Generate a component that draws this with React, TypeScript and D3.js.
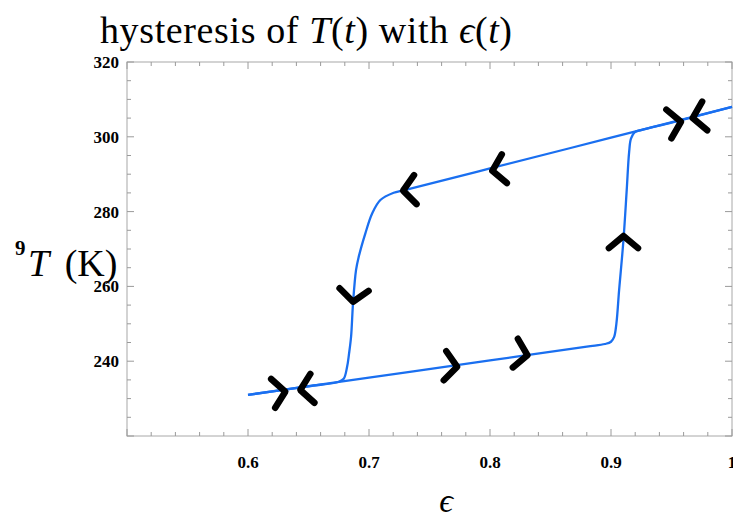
import React, { useEffect, useRef } from "react";
import * as d3 from "d3";

const width = 733;
const height = 519;

// heating: along the lower line, jump near 0.91, then the upper line to 1
const heatEps = [0.6, 0.7, 0.8, 0.88, 0.895, 0.9, 0.9026, 0.9045, 0.9067, 0.9103, 0.913, 0.915, 0.9165, 0.9195, 0.925, 0.95, 1.0];
const heatT = [231.0, 235.6, 240.2, 243.9, 244.6, 245.2, 246.5, 250.2, 259.0, 272.4, 285.8, 296.0, 299.5, 301.2, 301.8, 303.8, 308.0];

// cooling: back along the upper line, drop near 0.685, lower line to 0.6
const coolEps = [1.0, 0.9, 0.8, 0.74, 0.7274, 0.7204, 0.7094, 0.7026, 0.697, 0.6915, 0.6893, 0.6868, 0.6852, 0.6835, 0.6819, 0.6791, 0.675, 0.65, 0.6];
const coolT = [308.0, 299.75, 291.55, 286.6, 285.6, 285.05, 283.1, 279.5, 274.2, 267.9, 264.4, 255.5, 246.6, 242.0, 238.5, 235.3, 234.5, 233.3, 231.0];

const xTicks = [0.6, 0.7, 0.8, 0.9, 1];
const yTicks = [240, 260, 280, 300, 320];

// the hand drawn direction marks (tip position, heading in degrees on screen)
const arrowEps = [0.6308, 0.6432, 0.7729, 0.8309, 0.9103, 0.9578, 0.9675, 0.8019, 0.7282, 0.6868];
const arrowT = [231.85, 232.3, 238.5, 241.6, 273.5, 304.0, 305.0, 290.9, 285.6, 255.9];
const arrowDir = [-8, 172, 5, 10, -90, -10, 170, 170, 175, 95];

const App = () => {
  const ref = useRef<SVGSVGElement>(null);

  useEffect(() => {
    const svg = d3.select(ref.current);
    svg.selectAll("*").remove();

    const left = 127;
    const right = 732;
    const top = 62;
    const bottom = 436;

    const x = d3.scaleLinear().domain([0.5, 1]).range([left, right]);
    const y = d3.scaleLinear().domain([220, 320]).range([bottom, top]);

    const serif = "Liberation Serif, DejaVu Serif, serif";
    const tickColor = "#9a9a9a";

    // frame
    svg.append("rect")
      .attr("x", left)
      .attr("y", top)
      .attr("width", right - left)
      .attr("height", bottom - top)
      .attr("fill", "none")
      .attr("stroke", "#a8a8a8")
      .attr("stroke-width", 1);

    const xMajor = d3.range(0.5, 1.001, 0.1);
    const yMajor = d3.range(220, 321, 20);
    const allX = d3.range(0.5, 1.001, 0.02);
    const allY = d3.range(220, 321, 5);

    // ticks on all four sides, pointing in
    const ticks = svg.append("g").attr("stroke", tickColor).attr("stroke-width", 1);
    const isMajorX = (v: number) => xMajor.some(m => Math.abs(m - v) < 1e-6);
    const isMajorY = (v: number) => yMajor.some(m => Math.abs(m - v) < 1e-6);

    allX.forEach(v => {
      const len = isMajorX(v) ? 7 : 4;
      ticks.append("line").attr("x1", x(v)).attr("x2", x(v)).attr("y1", bottom).attr("y2", bottom - len);
      ticks.append("line").attr("x1", x(v)).attr("x2", x(v)).attr("y1", top).attr("y2", top + len);
    });
    allY.forEach(v => {
      const len = isMajorY(v) ? 7 : 4;
      ticks.append("line").attr("x1", left).attr("x2", left + len).attr("y1", y(v)).attr("y2", y(v));
      ticks.append("line").attr("x1", right).attr("x2", right - len).attr("y1", y(v)).attr("y2", y(v));
    });

    // tick labels
    svg.append("g")
      .selectAll("text")
      .data(xTicks)
      .enter()
      .append("text")
      .attr("x", d => x(d))
      .attr("y", 468)
      .attr("text-anchor", "middle")
      .attr("font-family", serif)
      .attr("font-weight", "bold")
      .attr("font-size", 17)
      .text(d => String(+d.toFixed(1)));

    svg.append("g")
      .selectAll("text")
      .data(yTicks)
      .enter()
      .append("text")
      .attr("x", 119)
      .attr("y", d => y(d))
      .attr("dy", "0.35em")
      .attr("text-anchor", "end")
      .attr("font-family", serif)
      .attr("font-weight", "bold")
      .attr("font-size", 17)
      .text(d => d);

    // loop
    const line = d3.line<[number, number]>()
      .x(d => x(d[0]))
      .y(d => y(d[1]))
      .curve(d3.curveCatmullRom.alpha(0.5));

    const heat = heatEps.map((e, i) => [e, heatT[i]] as [number, number]);
    const cool = coolEps.map((e, i) => [e, coolT[i]] as [number, number]);

    [heat, cool].forEach(branch => {
      svg.append("path")
        .attr("d", line(branch))
        .attr("fill", "none")
        .attr("stroke", "#1a6ff0")
        .attr("stroke-width", 2.3)
        .attr("stroke-linejoin", "round");
    });

    // direction marks
    const armLen = 19;
    const spread = 50;
    arrowEps.forEach((e, i) => {
      const tx = x(e);
      const ty = y(arrowT[i]);
      const back = ((arrowDir[i] + 180) * Math.PI) / 180;
      const a1 = back + (spread * Math.PI) / 180;
      const a2 = back - (spread * Math.PI) / 180;
      const p = d3.path();
      p.moveTo(tx + armLen * Math.cos(a1), ty + armLen * Math.sin(a1));
      p.lineTo(tx, ty);
      p.lineTo(tx + armLen * Math.cos(a2), ty + armLen * Math.sin(a2));
      svg.append("path")
        .attr("d", p.toString())
        .attr("fill", "none")
        .attr("stroke", "#000")
        .attr("stroke-width", 6.5)
        .attr("stroke-linecap", "round")
        .attr("stroke-linejoin", "round");
    });

    // title
    const title = svg.append("text")
      .attr("x", 100)
      .attr("y", 43)
      .attr("font-family", serif)
      .attr("font-size", 38)
      .attr("textLength", 412)
      .attr("lengthAdjust", "spacing");
    title.append("tspan").text("hysteresis of ");
    title.append("tspan").attr("font-style", "italic").text("T");
    title.append("tspan").text("(");
    title.append("tspan").attr("font-style", "italic").text("t");
    title.append("tspan").text(") with ");
    title.append("tspan").attr("font-style", "italic").text("ϵ");
    title.append("tspan").text("(");
    title.append("tspan").attr("font-style", "italic").text("t");
    title.append("tspan").text(")");

    // y label
    svg.append("text")
      .attr("x", 15)
      .attr("y", 255)
      .attr("font-family", serif)
      .attr("font-weight", "bold")
      .attr("font-size", 21)
      .text("9");
    const yl = svg.append("text")
      .attr("x", 28)
      .attr("y", 276)
      .attr("font-family", serif)
      .attr("font-size", 38);
    yl.append("tspan").attr("font-style", "italic").text("T");
    yl.append("tspan").attr("dx", 6).text(" (K)");

    // x label
    svg.append("text")
      .attr("x", 446)
      .attr("y", 512)
      .attr("text-anchor", "middle")
      .attr("font-family", serif)
      .attr("font-style", "italic")
      .attr("font-size", 34)
      .text("ϵ");
  }, []);

  return (
    <svg
      ref={ref}
      width={width}
      height={height}
      style={{ position: "absolute", left: 0, top: 0, background: "#fff" }}
    />
  );
};

export default App;
